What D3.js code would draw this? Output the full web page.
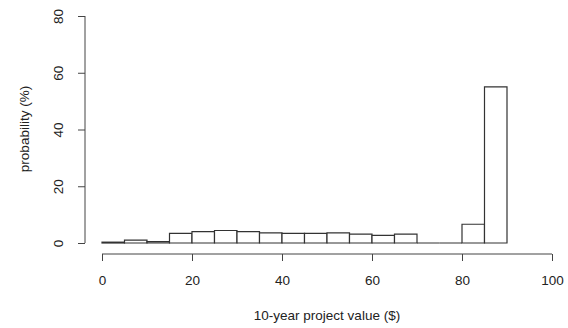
<!DOCTYPE html>
<html>
<head>
<meta charset="utf-8">
<script src="https://cdn.jsdelivr.net/npm/d3@7"></script>
<style>
  body { margin: 0; background: #fff; }
  svg text { font-family: "Liberation Sans", Arial, sans-serif; fill: #222; }
</style>
</head>
<body>
<div id="chart"></div>
<script>
// histogram bins (width 5) and their probability in percent
var binStarts = [0, 5, 10, 15, 20, 25, 30, 35, 40, 45, 50, 55, 60, 65, 70, 75, 80, 85];
var binWidth = 5;
var probs = [0.3, 1.0, 0.5, 3.4, 4.0, 4.4, 4.0, 3.6, 3.4, 3.4, 3.6, 3.1, 2.7, 3.1, 0, 0, 6.6, 55];
var xTicks = [0, 20, 40, 60, 80, 100];
var yTicks = [0, 20, 40, 60, 80];

var width = 568, height = 328;

var x = d3.scaleLinear().domain([0, 100]).range([102, 552]);
var y = d3.scaleLinear().domain([0, 80]).range([243, 16]);

var svg = d3.select("#chart").append("svg")
    .attr("width", width)
    .attr("height", height);

var data = binStarts.map(function(s, i) { return {x0: s, x1: s + binWidth, p: probs[i]}; });

// bars drawn as closed paths so empty bins still leave a line on the baseline (like R hist)
svg.selectAll(".bar")
    .data(data)
    .enter().append("path")
    .attr("class", "bar")
    .attr("d", function(d) {
        var p = d3.path();
        p.moveTo(x(d.x0), y(0));
        p.lineTo(x(d.x0), y(d.p));
        p.lineTo(x(d.x1), y(d.p));
        p.lineTo(x(d.x1), y(0));
        p.closePath();
        return p.toString();
    })
    .style("fill", "#fff")
    .style("stroke", "#333")
    .style("stroke-width", 1.2);

// x axis sits a bit below the zero line
var xAxis = svg.append("g")
    .attr("transform", "translate(0,254)")
    .call(d3.axisBottom(x).tickValues(xTicks).tickSize(7).tickPadding(14).tickFormat(d3.format("d")));

var yAxis = svg.append("g")
    .attr("transform", "translate(85,0)")
    .call(d3.axisLeft(y).tickValues(yTicks).tickSize(7).tickPadding(0).tickFormat(d3.format("d")));

[xAxis, yAxis].forEach(function(g) {
    g.select(".domain").attr("d", null);
    g.selectAll("line").style("stroke", "#444").style("stroke-width", 1);
    g.selectAll("text").style("font-size", "13.5px").style("fill", "#222")
        .style("font-family", "'Liberation Sans', Arial, sans-serif");
});

// axis lines span only the tick range, as in R
xAxis.append("line")
    .attr("x1", x(0)).attr("x2", x(100))
    .style("stroke", "#444");
yAxis.append("line")
    .attr("y1", y(0)).attr("y2", y(80))
    .style("stroke", "#444");

// rotated y tick labels
yAxis.selectAll(".tick text")
    .attr("x", null)
    .attr("transform", "translate(-27,0) rotate(-90)")
    .style("text-anchor", "middle")
    .attr("dy", "0.35em");

// axis titles
svg.append("text")
    .attr("x", 327)
    .attr("y", 320)
    .attr("text-anchor", "middle")
    .style("font-size", "13.5px")
    .text("10-year project value ($)");

svg.append("text")
    .attr("transform", "translate(29,129) rotate(-90)")
    .attr("text-anchor", "middle")
    .style("font-size", "13.5px")
    .text("probability (%)");
</script>
</body>
</html>
